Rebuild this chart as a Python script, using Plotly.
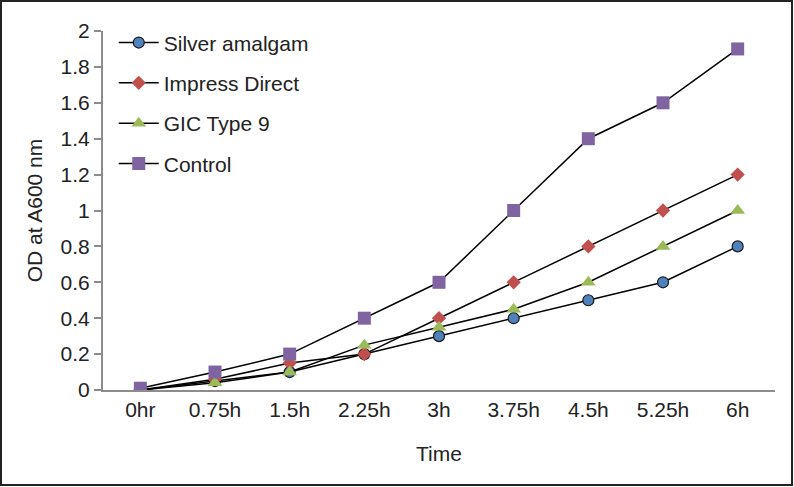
import plotly.graph_objects as go

categories = ["0hr", "0.75h", "1.5h", "2.25h", "3h", "3.75h", "4.5h", "5.25h", "6h"]
silver_amalgam = [0, 0.05, 0.1, 0.2, 0.3, 0.4, 0.5, 0.6, 0.8]
impress_direct = [0, 0.06, 0.15, 0.2, 0.4, 0.6, 0.8, 1.0, 1.2]
gic_type9 = [0, 0.04, 0.1, 0.25, 0.35, 0.45, 0.6, 0.8, 1.0]
control = [0.01, 0.1, 0.2, 0.4, 0.6, 1.0, 1.4, 1.6, 1.9]
y_ticks = [0, 0.2, 0.4, 0.6, 0.8, 1, 1.2, 1.4, 1.6, 1.8, 2]

FONT = "Liberation Sans, Arial, sans-serif"

series = [
    ("Silver amalgam", silver_amalgam, dict(symbol="circle", size=11, color="#4F81BD", line=dict(color="#1a1a1a", width=1.2))),
    ("Impress Direct", impress_direct, dict(symbol="diamond", size=11, color="#C0504D", line=dict(width=0))),
    ("GIC Type 9", gic_type9, dict(symbol="triangle-up", size=13, color="#9BBB59", line=dict(width=0))),
    ("Control", control, dict(symbol="square", size=13, color="#8064A2", line=dict(width=0))),
]

fig = go.Figure()
for i, (name, vals, mk) in enumerate(series):
    fig.add_trace(go.Scatter(
        x=categories, y=vals, name=name, mode="lines+markers",
        line=dict(color="#000000", width=1.5),
        marker=mk, legendgroup=f"g{i}",
    ))

W, H = 794, 487
L, R, T, B = 103, 19, 31, 97
pw, ph = W - L - R, H - T - B

def px_x(p):
    return (p - L) / pw

def px_y(p):
    return (H - B - p) / ph

fig.update_layout(
    width=W, height=H,
    margin=dict(l=L, r=R, t=T, b=B),
    paper_bgcolor="white", plot_bgcolor="white",
    font=dict(family=FONT, size=20, color="#222222"),
    showlegend=True,
    legend=dict(
        x=0.016, y=1.024, xanchor="left", yanchor="top",
        font=dict(family=FONT, size=21, color="#222222"),
        bgcolor="rgba(0,0,0,0)", itemwidth=40, tracegroupgap=10,
    ),
    xaxis=dict(
        type="category", range=[-0.5, 8.5],
        showline=True, linecolor="#8c8c8c", linewidth=2,
        ticks="", showgrid=False, zeroline=False,
        tickfont=dict(family=FONT, size=21, color="#222222"),
        title=dict(text="Time", font=dict(family=FONT, size=21, color="#222222"), standoff=26),
    ),
    yaxis=dict(
        range=[0, 2], tickvals=y_ticks, ticktext=[f"{v:g}" for v in y_ticks],
        showline=True, linecolor="#8c8c8c", linewidth=2,
        ticks="outside", ticklen=7, tickcolor="#8c8c8c", tickwidth=1.5,
        showgrid=False, zeroline=False,
        tickfont=dict(family=FONT, size=21, color="#222222"),
        title=dict(text="OD at A600 nm", font=dict(family=FONT, size=21, color="#222222"), standoff=12),
    ),
    shapes=[dict(
        type="rect", xref="paper", yref="paper",
        x0=px_x(1), x1=px_x(792), y0=px_y(485), y1=px_y(1),
        line=dict(color="#222222", width=2), fillcolor="rgba(0,0,0,0)", layer="below",
    )],
)

fig.write_html(
    "out.html",
    config={"displayModeBar": False},
    post_script="document.body.style.margin='0';document.body.style.overflow='hidden';",
)
